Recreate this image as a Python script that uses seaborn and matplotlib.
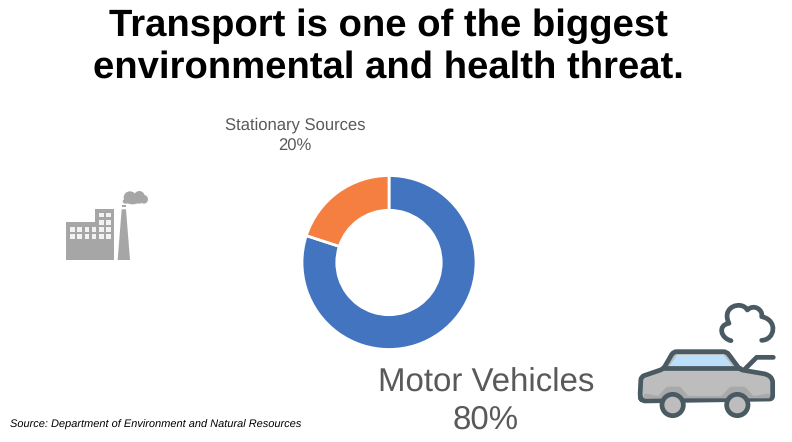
import matplotlib
matplotlib.use('Agg')
import matplotlib.pyplot as plt
import numpy as np
from matplotlib.patches import Circle, Ellipse, Polygon, PathPatch, Rectangle
from matplotlib.path import Path
import seaborn as sns

# Chart data
categories = ['Motor Vehicles', 'Stationary Sources']
values = [80, 20]
colors = ['#4374C0', '#F57F40']
title = 'Transport is one of the biggest\nenvironmental and health threat.'
source = 'Source: Department of Environment and Natural Resources'

sns.set_theme(style='white')
plt.rcParams['font.family'] = ['Liberation Sans', 'DejaVu Sans']
plt.rcParams['text.hinting'] = 'no_hinting'

fig = plt.figure(figsize=(7.92, 4.42), dpi=100, facecolor='white')

# Overlay in pixel coordinates for the text and the icons
bg = fig.add_axes([0, 0, 1, 1])
bg.set_xlim(0, 792)
bg.set_ylim(442, 0)
bg.axis('off')

# Donut
size = 180
cx, cy = 389, 262.5
ax = fig.add_axes([(cx - size / 2) / 792, 1 - (cy + size / 2) / 442, size / 792, size / 442])
ax.pie(values, colors=colors, startangle=90, counterclock=False, radius=1,
       wedgeprops={'width': 0.4, 'edgecolor': 'white', 'linewidth': 2})
ax.set_xlim(-size / 174, size / 174)
ax.set_ylim(-size / 174, size / 174)
ax.set_aspect('equal')

# Text
bg.text(388, 47, title, ha='center', va='center', fontsize=27.5, fontweight='bold',
        color='black', linespacing=1.21)
bg.text(295, 135.5, f'{categories[1]}\n{values[1]}%', ha='center', va='center', fontsize=12,
        color='#595959', linespacing=1.45)
bg.text(486, 401.5, f'{categories[0]}\n{values[0]}%', ha='center', va='center', fontsize=23.8,
        color='#595959', linespacing=1.28)
bg.text(10, 425, source, ha='left', va='center', fontsize=7.95, style='italic', color='black')


def fac(x, y):
    return (50 + x / 3, 180 + y / 3)


grey = '#A6A6A6'
building = [(48, 127), (135, 127), (135, 88), (193, 88), (193, 240), (48, 240)]
bg.add_patch(Polygon([fac(*p) for p in building], closed=True, fc=grey, ec='none'))
for wy in [141, 163]:
    for wx in [61, 82, 104, 125, 147, 168]:
        bg.add_patch(Rectangle(fac(wx, wy), 14 / 3, 14 / 3, fc='#F2F2F2', ec='none'))
for wy in [98, 120]:
    for wx in [147, 168]:
        bg.add_patch(Rectangle(fac(wx, wy), 14 / 3, 14 / 3, fc='#F2F2F2', ec='none'))
chimney = [(215, 88), (228, 88), (240, 240), (203, 240)]
bg.add_patch(Polygon([fac(*p) for p in chimney], closed=True, fc=grey, ec='none'))
bg.add_patch(Rectangle(fac(215, 76), 13 / 3, 6 / 3, fc=grey, ec='none'))
for sx, sy, sw, sh in [(240, 52, 38, 36), (268, 52, 34, 38), (282, 58, 24, 26), (248, 62, 42, 22),
                       (228, 64, 20, 14)]:
    bg.add_patch(Ellipse(fac(sx, sy), sw / 3, sh / 3, fc=grey, ec='none'))


def car(x, y):
    return (630 + x / 3, 295 + y / 3)


def rounded(points, r):
    # closed path with every corner cut back by r and joined with a curve
    pts = np.array(points, dtype=float)
    verts, codes = [], []
    for i, p in enumerate(pts):
        a = pts[i - 1]
        b = pts[(i + 1) % len(pts)]
        d1 = (a - p) / np.linalg.norm(a - p)
        d2 = (b - p) / np.linalg.norm(b - p)
        verts += [car(*(p + d1 * r)), car(*p), car(*(p + d2 * r))]
        codes += [Path.MOVETO if i == 0 else Path.LINETO, Path.CURVE3, Path.CURVE3]
    verts.append(verts[0])
    codes.append(Path.CLOSEPOLY)
    return Path(verts, codes)


dark = '#4A5A62'
lw = 3.4
body = [(33, 245), (100, 222), (130, 170), (290, 170), (330, 224), (412, 238), (428, 252),
        (428, 312), (36, 318), (30, 305)]
bg.add_patch(PathPatch(rounded(body, 10), fc='#BDBDBD', ec=dark, lw=lw, joinstyle='round', zorder=3))
band = [(42, 295), (85, 303), (110, 275), (150, 275), (175, 303), (275, 303), (300, 275),
        (345, 275), (370, 303), (420, 295), (420, 310), (42, 310)]
bg.add_patch(PathPatch(rounded(band, 5), fc='#A9A9A9', ec='none', zorder=3.1))
window = [(118, 214), (141, 180), (281, 180), (308, 214)]
bg.add_patch(Polygon([car(*p) for p in window], closed=True, fc='#BBDEFB', ec='none', zorder=3.2))
bg.plot(*zip(*[car(*p) for p in [(100, 220), (330, 220)]]), color=dark, lw=lw, zorder=3.2)
bg.plot(*zip(*[car(*p) for p in [(345, 222), (380, 187), (430, 187)]]), color=dark, lw=lw,
        solid_capstyle='round', solid_joinstyle='round', zorder=3)
for wx in [128, 322]:
    bg.add_patch(Circle(car(wx, 330), 32 / 3, fc='#BDBDBD', ec=dark, lw=lw, zorder=4))

cloud = [(303, 137), (272, 130), (262, 90), (297, 85),
         (272, 35), (335, 15), (352, 45),
         (372, 25), (400, 45), (395, 65),
         (445, 75), (435, 135), (395, 136)]
codes = [Path.MOVETO] + [Path.CURVE4] * 12
bg.add_patch(PathPatch(Path([car(*p) for p in cloud], codes), fc='none', ec=dark, lw=lw,
                       capstyle='round', joinstyle='round', zorder=3))

plt.savefig('out.png', dpi=100)
